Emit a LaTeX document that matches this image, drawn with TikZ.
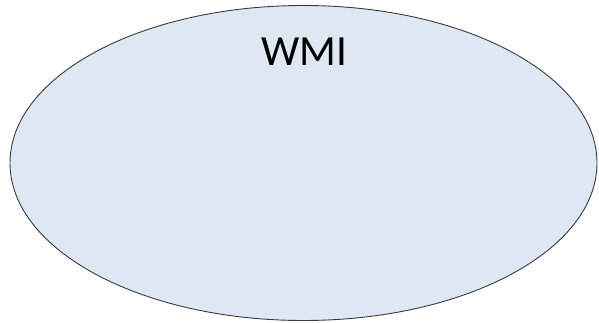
\documentclass[tikz,border=0pt]{standalone}
\usepackage{fontspec}
\setmainfont{Carlito}
\usetikzlibrary{shapes.geometric}
\definecolor{shapefill}{HTML}{DEE8F4}
\definecolor{shapeline}{HTML}{3A3A3A}
\tikzset{
  bubble/.style={ellipse, draw=shapeline, fill=shapefill, line width=0.9pt,
    inner sep=0pt, minimum width=587pt, minimum height=315pt},
  caption/.style={font=\fontsize{43}{50}\selectfont, text=black, inner sep=0pt}
}
\begin{document}
\begin{tikzpicture}[x=1pt,y=-1pt]
  \useasboundingbox (0,0) rectangle (599,322);
  \node[bubble] (wmi) at (303.5,163) {};
  \node[caption, anchor=base] (title) at (304.5,65) {WMI};
\end{tikzpicture}
\end{document}
